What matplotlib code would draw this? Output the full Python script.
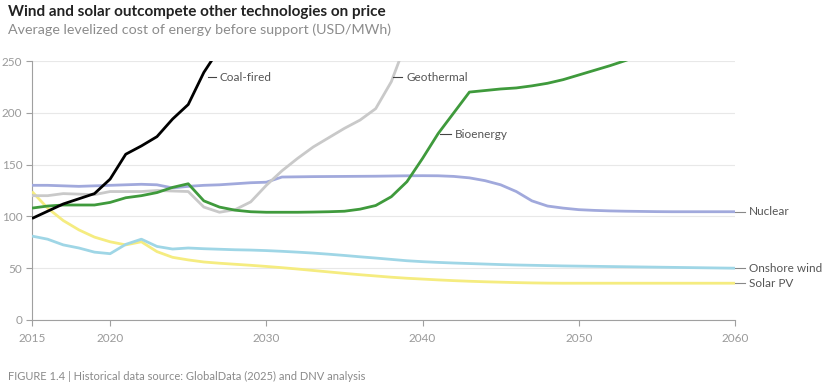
import matplotlib
matplotlib.use("Agg")
import matplotlib.pyplot as plt
import numpy as np

plt.rcParams['font.family'] = ['Lato', 'DejaVu Sans']

years = list(range(2015, 2061))

coal = [98, 105, 112, 117, 122, 136, 160, 168, 177, 194, 208, 239, 262, 285]
geothermal = [120, 120, 122, 121.5, 121, 124, 124, 124, 125, 124.5, 124, 109, 104, 106.5, 114,
              130, 144, 156, 167, 176, 185, 193, 204, 230, 270]
bioenergy = [108, 110, 111, 111, 111, 113.5, 118, 120, 123, 128, 131.5, 115, 109, 106, 104.5,
             104, 104, 104, 104.2, 104.5, 105, 107, 110.5, 119, 133.5, 156, 180, 200, 220, 221.5,
             223, 224, 226, 228.5, 232, 236.5, 241, 245.5, 250.5, 256]
nuclear = [130, 130, 129.5, 129, 129.5, 130, 130.5, 131, 130.5, 127.5, 129, 130, 130.5, 131.5, 132.5,
           133, 138, 138.2, 138.4, 138.5, 138.6, 138.7, 138.8, 139, 139.2, 139.3, 139.2, 138.6, 137.2,
           134.5, 130.5, 124, 115, 110, 108, 106.5, 105.8, 105.3, 105, 104.8, 104.6, 104.5, 104.5,
           104.5, 104.5, 104.5]
onshore_wind = [81, 78, 72.5, 69.5, 65.5, 64, 73, 78, 71, 68.5, 69.5, 68.8, 68.3, 67.8, 67.5,
                67, 66.3, 65.5, 64.6, 63.5, 62.3, 61, 59.8, 58.5, 57.2, 56.3, 55.6, 55, 54.5, 54,
                53.5, 53.1, 52.8, 52.5, 52.2, 52, 51.8, 51.6, 51.4, 51.2, 51, 50.8, 50.6, 50.4,
                50.2, 50]
solar_pv = [124, 108, 96, 87, 80, 75.5, 72.5, 75.5, 66, 60.5, 58, 56, 54.8, 53.8, 52.8,
            51.7, 50.5, 49.2, 47.8, 46.4, 45, 43.7, 42.5, 41.3, 40.3, 39.5, 38.7, 38, 37.4, 36.9,
            36.5, 36.1, 35.8, 35.6, 35.5, 35.5, 35.5, 35.5, 35.5, 35.5, 35.5, 35.5, 35.5, 35.5,
            35.5, 35.5]

series = [
    ("Solar PV", solar_pv, "#f5ec80"),
    ("Onshore wind", onshore_wind, "#9fd6e6"),
    ("Nuclear", nuclear, "#a1a9dc"),
    ("Geothermal", geothermal, "#c9c9c9"),
    ("Bioenergy", bioenergy, "#3f9a3c"),
    ("Coal-fired", coal, "#000000"),
]

fig = plt.figure(figsize=(8.34, 3.89), dpi=100)
ax = fig.add_axes([32/834, 1 - 320/389, (735-32)/834, (320-61)/389])

for name, vals, col in series:
    ax.plot(years[:len(vals)], vals, color=col, lw=2.0, solid_joinstyle='round',
            solid_capstyle='butt', zorder=3)

ax.set_xlim(2015, 2060)
ax.set_ylim(0, 250)
ax.set_yticks([0, 50, 100, 150, 200, 250])
ax.set_xticks([2015, 2020, 2030, 2040, 2050, 2060])
ax.grid(axis='y', color='#e8e8e8', lw=0.8, zorder=0)
for s in ['top', 'right']:
    ax.spines[s].set_visible(False)
for s in ['left', 'bottom']:
    ax.spines[s].set_color('#a0a0a0')
    ax.spines[s].set_linewidth(0.8)
ax.tick_params(axis='both', colors='#a0a0a0', labelcolor='#9a9a9a', labelsize=8.5,
               length=4, width=0.8)
ax.tick_params(axis='y', pad=3)
ax.tick_params(axis='x', pad=5)

lbl_color = '#555555'
inline = [("Coal-fired", 2026.25, 2026.75, 234.5),
          ("Geothermal", 2038.1, 2038.7, 234.5),
          ("Bioenergy", 2041.1, 2041.8, 179.5)]
for name, x0, x1, yv in inline:
    ax.plot([x0, x1], [yv, yv], color='#444444', lw=0.8, zorder=4, clip_on=False)
    ax.text(x1 + 0.25, yv, name, fontsize=8.5, color=lbl_color, va='center', ha='left')

right = [("Nuclear", 104.5), ("Onshore wind", 50), ("Solar PV", 35.5)]
for name, yv in right:
    ax.plot([2060, 2060.65], [yv, yv], color='#888888', lw=0.8, clip_on=False)
    ax.text(2060.9, yv, name, fontsize=8.5, color=lbl_color, va='center', ha='left')

fig.text(8/834, 1 - 12/389, "Wind and solar outcompete other technologies on price",
         fontsize=11, fontweight='bold', color='#222222', va='center', ha='left')
fig.text(8/834, 1 - 30/389, "Average levelized cost of energy before support (USD/MWh)",
         fontsize=10.3, fontweight='normal', color='#8c8c8c', va='center', ha='left')
fig.text(8/834, 1 - 376/389, "FIGURE 1.4 | Historical data source: GlobalData (2025) and DNV analysis",
         fontsize=8, color='#8a8a8a', va='center', ha='left')

fig.savefig("out.png", dpi=100)
